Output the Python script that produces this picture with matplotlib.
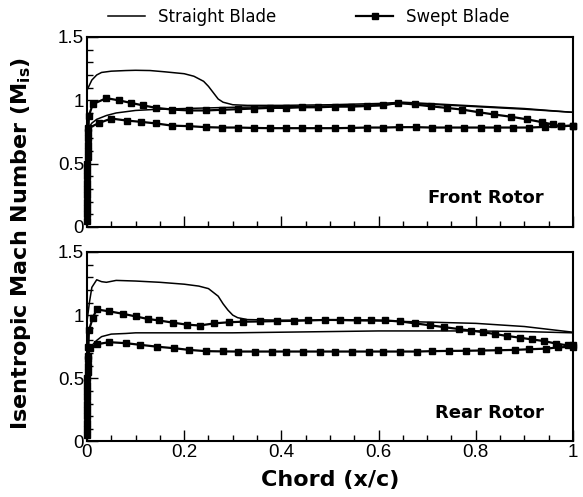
import matplotlib
matplotlib.use("Agg")
import matplotlib.pyplot as plt
from matplotlib.lines import Line2D
from matplotlib.ticker import MultipleLocator, FormatStrFormatter

# === Data ===
# Front rotor - straight blade (suction / pressure side)
front_straight_up_x = [0.0, 0.005, 0.01, 0.02, 0.03, 0.05, 0.08, 0.1, 0.13, 0.16, 0.2, 0.22,
                       0.24, 0.25, 0.26, 0.27, 0.28, 0.3, 0.33, 0.4, 0.5, 0.6, 0.65, 0.7,
                       0.8, 0.9, 0.95, 1.0]
front_straight_up_y = [1.08, 1.12, 1.16, 1.2, 1.22, 1.23, 1.235, 1.237, 1.235, 1.225, 1.21, 1.19,
                       1.15, 1.11, 1.06, 1.01, 0.985, 0.965, 0.96, 0.96, 0.965, 0.975, 0.985, 0.975,
                       0.955, 0.935, 0.92, 0.905]
front_straight_lo_x = [0.003, 0.01, 0.02, 0.04, 0.06, 0.1, 0.15, 0.2, 0.3, 0.4, 0.5, 0.6,
                       0.65, 0.7, 0.8, 0.9, 1.0]
front_straight_lo_y = [0.78, 0.82, 0.85, 0.88, 0.9, 0.92, 0.93, 0.935, 0.945, 0.95, 0.955, 0.965,
                       0.975, 0.97, 0.95, 0.93, 0.905]

# Front rotor - swept blade
front_swept_up_x = [0.0, 0.0, 0.0, 0.001, 0.001, 0.002, 0.002, 0.003, 0.004, 0.012, 0.04, 0.065,
                    0.09, 0.115, 0.143, 0.175, 0.21, 0.245, 0.277, 0.31, 0.343, 0.376, 0.41,
                    0.443, 0.476, 0.51, 0.543, 0.576, 0.61, 0.64, 0.674, 0.707, 0.74, 0.772,
                    0.806, 0.838, 0.873, 0.905, 0.937, 0.958, 0.975, 1.0]
front_swept_up_y = [0.05, 0.15, 0.25, 0.35, 0.45, 0.55, 0.65, 0.75, 0.88, 0.97, 1.017, 1.0,
                    0.98, 0.96, 0.94, 0.927, 0.92, 0.92, 0.925, 0.93, 0.935, 0.94, 0.94,
                    0.945, 0.945, 0.95, 0.95, 0.955, 0.96, 0.98, 0.967, 0.953, 0.94, 0.927,
                    0.906, 0.888, 0.87, 0.85, 0.827, 0.81, 0.796, 0.8]
front_swept_lo_x = [0.0, 0.0, 0.0, 0.001, 0.001, 0.002, 0.002, 0.003, 0.024, 0.05, 0.082, 0.111,
                    0.143, 0.175, 0.21, 0.244, 0.277, 0.31, 0.343, 0.376, 0.41, 0.443, 0.476,
                    0.51, 0.543, 0.576, 0.61, 0.643, 0.676, 0.71, 0.743, 0.776, 0.81, 0.843,
                    0.876, 0.91, 0.943, 0.975, 1.0]
front_swept_lo_y = [0.1, 0.2, 0.3, 0.4, 0.5, 0.6, 0.7, 0.78, 0.82, 0.856, 0.84, 0.83,
                    0.817, 0.8, 0.796, 0.788, 0.785, 0.785, 0.782, 0.78, 0.78, 0.78, 0.78,
                    0.78, 0.782, 0.785, 0.785, 0.788, 0.788, 0.785, 0.785, 0.785, 0.785, 0.785,
                    0.785, 0.785, 0.79, 0.795, 0.8]

# Rear rotor - straight blade
rear_straight_up_x = [0.0, 0.005, 0.01, 0.02, 0.03, 0.04, 0.06, 0.1, 0.15, 0.2, 0.23, 0.25,
                      0.27, 0.28, 0.29, 0.3, 0.31, 0.33, 0.4, 0.5, 0.6, 0.65, 0.7, 0.8, 0.9, 1.0]
rear_straight_up_y = [0.95, 1.1, 1.22, 1.28, 1.265, 1.26, 1.275, 1.27, 1.26, 1.245, 1.23, 1.21,
                      1.15, 1.09, 1.04, 1.0, 0.98, 0.965, 0.96, 0.96, 0.955, 0.95, 0.945, 0.935,
                      0.91, 0.865]
rear_straight_lo_x = [0.003, 0.01, 0.02, 0.03, 0.05, 0.08, 0.1, 0.2, 0.3, 0.4, 0.5, 0.6,
                      0.7, 0.8, 0.9, 0.95, 1.0]
rear_straight_lo_y = [0.7, 0.76, 0.8, 0.83, 0.85, 0.855, 0.86, 0.86, 0.86, 0.865, 0.87, 0.875,
                      0.875, 0.875, 0.87, 0.865, 0.86]

# Rear rotor - swept blade
rear_swept_up_x = [0.0, 0.0, 0.0, 0.001, 0.001, 0.002, 0.002, 0.003, 0.004, 0.012, 0.02, 0.046,
                   0.075, 0.1, 0.125, 0.148, 0.178, 0.205, 0.232, 0.262, 0.293, 0.32, 0.355,
                   0.39, 0.425, 0.455, 0.49, 0.52, 0.555, 0.585, 0.614, 0.645, 0.675, 0.705,
                   0.735, 0.765, 0.79, 0.815, 0.84, 0.865, 0.89, 0.915, 0.94, 0.965, 0.99, 1.0]
rear_swept_up_y = [0.05, 0.15, 0.25, 0.35, 0.45, 0.55, 0.65, 0.75, 0.88, 0.98, 1.045, 1.03,
                   1.01, 0.99, 0.97, 0.958, 0.94, 0.925, 0.918, 0.935, 0.944, 0.948, 0.95,
                   0.953, 0.955, 0.958, 0.962, 0.962, 0.96, 0.96, 0.958, 0.95, 0.935, 0.92,
                   0.905, 0.89, 0.878, 0.865, 0.85, 0.835, 0.822, 0.808, 0.795, 0.775, 0.76, 0.76]
rear_swept_lo_x = [0.0, 0.0, 0.0, 0.001, 0.001, 0.002, 0.002, 0.006, 0.02, 0.046, 0.08, 0.11,
                   0.145, 0.18, 0.21, 0.245, 0.28, 0.31, 0.345, 0.38, 0.41, 0.445, 0.48, 0.51,
                   0.545, 0.58, 0.61, 0.645, 0.68, 0.71, 0.745, 0.78, 0.81, 0.845, 0.88, 0.91,
                   0.945, 0.97, 1.0]
rear_swept_lo_y = [0.1, 0.2, 0.3, 0.4, 0.5, 0.6, 0.68, 0.74, 0.77, 0.786, 0.778, 0.765,
                   0.75, 0.738, 0.725, 0.715, 0.713, 0.712, 0.712, 0.712, 0.712, 0.712, 0.712,
                   0.712, 0.712, 0.712, 0.712, 0.712, 0.712, 0.715, 0.717, 0.718, 0.72, 0.722,
                   0.725, 0.73, 0.735, 0.745, 0.75]

panels = [
    ("Front Rotor", front_straight_up_x, front_straight_up_y, front_straight_lo_x, front_straight_lo_y,
     front_swept_up_x, front_swept_up_y, front_swept_lo_x, front_swept_lo_y),
    ("Rear Rotor", rear_straight_up_x, rear_straight_up_y, rear_straight_lo_x, rear_straight_lo_y,
     rear_swept_up_x, rear_swept_up_y, rear_swept_lo_x, rear_swept_lo_y),
]

# === Figure ===
fig = plt.figure(figsize=(5.83, 4.97), dpi=100)
ax_top = fig.add_axes([0.1492, 0.5433, 0.8336, 0.3823])
ax_bot = fig.add_axes([0.1492, 0.1117, 0.8336, 0.3813])

tick_font = {"family": "Liberation Sans", "size": 13.5}

for ax, (name, sux, suy, slx, sly, wux, wuy, wlx, wly) in zip([ax_top, ax_bot], panels):
    ax.plot(sux, suy, color="black", lw=1.1)
    ax.plot(slx, sly, color="black", lw=1.1)
    for xs, ys in [(wux, wuy), (wlx, wly)]:
        ax.plot(xs, ys, color="black", lw=1.6, marker="s", markersize=5, clip_on=False)

    ax.set_xlim(0, 1)
    ax.set_ylim(0, 1.5)
    ax.xaxis.set_major_locator(MultipleLocator(0.2))
    ax.xaxis.set_minor_locator(MultipleLocator(0.05))
    ax.yaxis.set_major_locator(MultipleLocator(0.5))
    ax.yaxis.set_minor_locator(MultipleLocator(0.1))
    ax.yaxis.set_major_formatter(FormatStrFormatter("%g"))
    ax.xaxis.set_major_formatter(FormatStrFormatter("%g"))
    ax.tick_params(which="both", direction="in", top=False, right=False, width=1.0)
    ax.tick_params(which="major", length=8, pad=2)
    ax.tick_params(which="minor", length=4)
    for lab in ax.get_xticklabels() + ax.get_yticklabels():
        lab.set_fontfamily(tick_font["family"])
        lab.set_fontsize(tick_font["size"])
    for sp in ax.spines.values():
        sp.set_linewidth(1.5)

    ax.text(0.94, 0.15, name, transform=ax.transAxes, ha="right", va="center",
            fontsize=13, fontweight="bold", family="DejaVu Sans")

ax_top.tick_params(axis="x", labelbottom=False)

fig.text(0.036, 0.511, r"Isentropic Mach Number (M$_{\mathbf{is}}$)", rotation=90,
         ha="center", va="center", fontsize=16, fontweight="bold", family="DejaVu Sans")
fig.text(0.566, 0.035, "Chord (x/c)", ha="center", va="center",
         fontsize=16, fontweight="bold", family="DejaVu Sans")

handles = [Line2D([], [], color="black", lw=1.1),
           Line2D([], [], color="black", lw=1.6, marker="s", markersize=5)]
fig.legend(handles, ["Straight Blade", "Swept Blade"], loc="upper center",
           bbox_to_anchor=(0.53, 1.015), ncol=2, frameon=False, handlelength=2.2,
           columnspacing=4.8, prop={"family": "DejaVu Sans", "size": 12})

plt.savefig("out.png", dpi=100)
